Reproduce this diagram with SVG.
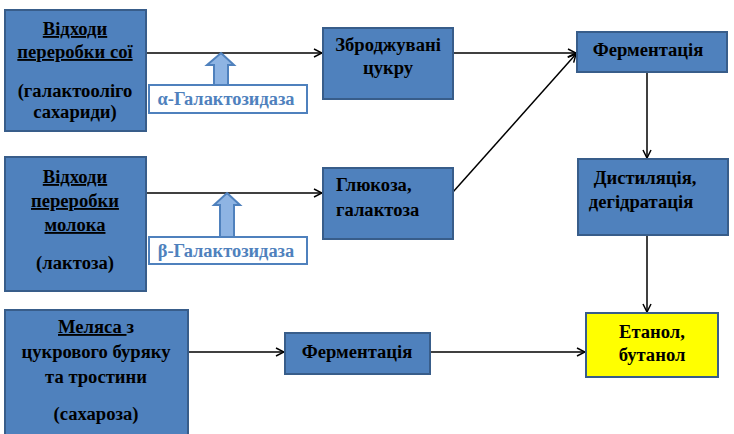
<svg xmlns="http://www.w3.org/2000/svg" width="734" height="434" viewBox="0 0 734 434">
<defs>
<style>
.box{fill:#4F81BD;stroke:#385D8A;stroke-width:2}
.yel{fill:#FFFF00;stroke:#385D8A;stroke-width:2}
.enz{fill:#FFFFFF;stroke:#4F81BD;stroke-width:2}
.blk{fill:#8EB4E3;stroke:#4F81BD;stroke-width:2}
text{font-family:'Liberation Serif','Times New Roman','DejaVu Serif',serif;font-weight:bold}
.t{font-size:18.6px;fill:#000}
.c{text-anchor:middle}
.e{font-size:18.4px;fill:#4F81BD}
.ln{stroke:#000;stroke-width:1.5;fill:none}
</style>
<marker id="arr" viewBox="0 0 10 10" refX="9" refY="5" markerWidth="10" markerHeight="10" markerUnits="userSpaceOnUse" orient="auto">
<path d="M1,1 L9,5 L1,9" fill="none" stroke="#000" stroke-width="1.5"/>
</marker>
</defs>
<rect width="734" height="434" fill="#fff"/>
<g id="connectors">
<line class="ln" x1="146" y1="53" x2="322" y2="53" marker-end="url(#arr)"/>
<line class="ln" x1="146" y1="193" x2="322" y2="193" marker-end="url(#arr)"/>
<line class="ln" x1="453" y1="53" x2="576" y2="53" marker-end="url(#arr)"/>
<line class="ln" x1="453" y1="192" x2="576" y2="54" marker-end="url(#arr)"/>
<line class="ln" x1="647" y1="72" x2="647" y2="158" marker-end="url(#arr)"/>
<line class="ln" x1="647" y1="235" x2="647" y2="312" marker-end="url(#arr)"/>
<line class="ln" x1="188" y1="352" x2="284" y2="352" marker-end="url(#arr)"/>
<line class="ln" x1="430" y1="352" x2="585" y2="352" marker-end="url(#arr)"/>
</g>
<g id="soy">
<rect class="box" x="5" y="10" width="141" height="121"/>
<text class="t c" x="75" y="35" text-decoration="underline">Відходи</text>
<text class="t c" x="75" y="58" text-decoration="underline">переробки сої</text>
<text class="t c" x="75" y="97">(галактоолiго</text>
<text class="t c" x="75" y="118">сахариди)</text>
</g>
<g id="milk">
<rect class="box" x="5" y="157" width="141" height="134"/>
<text class="t c" x="75" y="183" text-decoration="underline">Відходи</text>
<text class="t c" x="75" y="207" text-decoration="underline">переробки</text>
<text class="t c" x="75" y="231" text-decoration="underline">молока</text>
<text class="t c" x="75" y="269">(лактоза)</text>
</g>
<g id="molasses">
<rect class="box" x="5" y="310" width="183" height="130"/>
<text class="t c" x="96" y="333"><tspan text-decoration="underline">Меляса </tspan>з</text>
<text class="t c" x="96" y="358">цукрового буряку</text>
<text class="t c" x="96" y="383">та тростини</text>
<text class="t c" x="96" y="420">(сахароза)</text>
</g>
<g id="alpha">
<path class="blk" d="M221,53 L234,65 L228,65 L228,85 L214,85 L214,65 L207,65 Z"/>
<rect class="enz" x="149" y="85" width="158" height="28"/>
<text class="e c" x="226" y="105">α-Галактозидаза</text>
</g>
<g id="beta">
<path class="blk" d="M227,193 L240,205 L234,205 L234,237 L220,237 L220,205 L214,205 Z"/>
<rect class="enz" x="149" y="237" width="158" height="27"/>
<text class="e c" x="226" y="257">β-Галактозидаза</text>
</g>
<g id="sugars">
<rect class="box" x="323" y="28" width="130" height="71"/>
<text class="t c" x="388" y="51">Зброджувані</text>
<text class="t c" x="388" y="74">цукру</text>
</g>
<g id="glucose">
<rect class="box" x="323" y="168" width="130" height="71"/>
<text class="t" x="336" y="191">Глюкоза,</text>
<text class="t" x="336" y="216">галактоза</text>
</g>
<g id="ferm1">
<rect class="box" x="577" y="32" width="150" height="40"/>
<text class="t c" x="648" y="56">Ферментація</text>
</g>
<g id="dist">
<rect class="box" x="578" y="159" width="150" height="76"/>
<text class="t c" x="645" y="184">Дистиляція,</text>
<text class="t c" x="641" y="208">дегідратація</text>
</g>
<g id="products">
<rect class="yel" x="586" y="313" width="132" height="64"/>
<text class="t c" x="652" y="338">Етанол,</text>
<text class="t c" x="652" y="361">бутанол</text>
</g>
<g id="ferm2">
<rect class="box" x="285" y="333" width="145" height="41"/>
<text class="t c" x="357" y="358">Ферментація</text>
</g>
</svg>
